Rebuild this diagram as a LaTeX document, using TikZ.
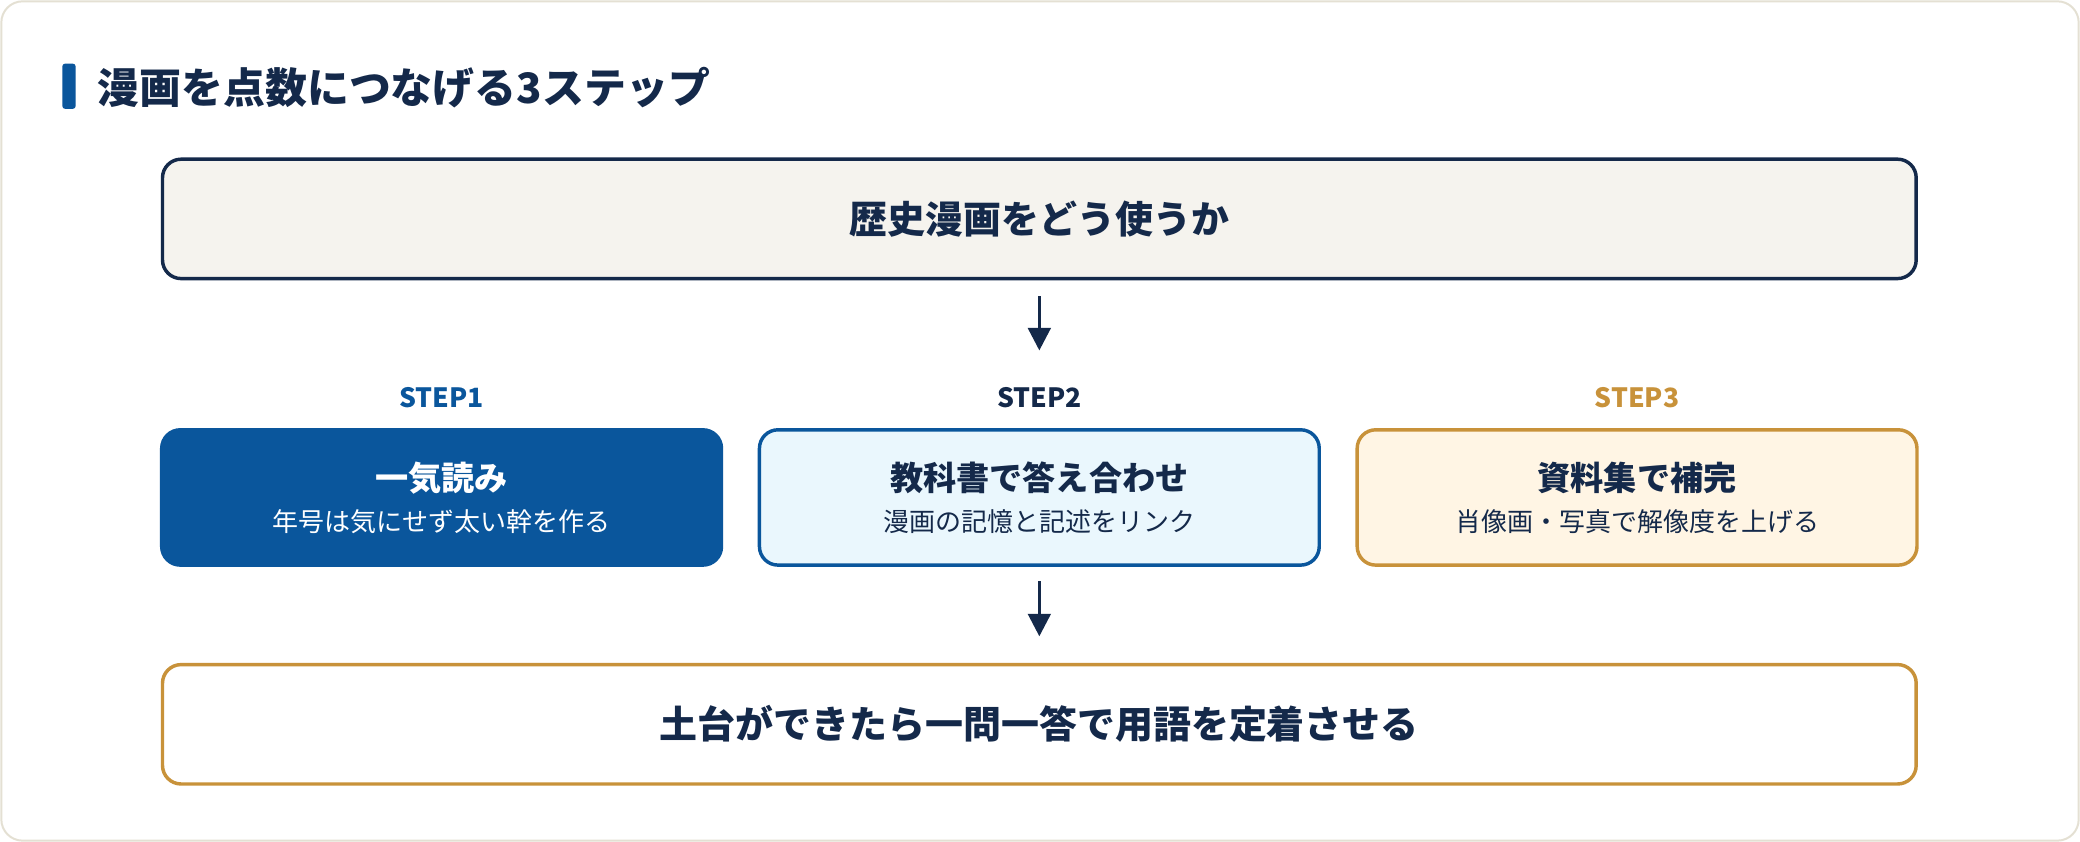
\documentclass[tikz,border=0pt]{standalone}
\usepackage{fontspec}
\setmainfont{Noto Sans CJK JP}
\usepackage{tikz}
\usetikzlibrary{positioning,arrows.meta}
\definecolor{navy}{HTML}{14294A}
\definecolor{stepblue}{HTML}{0A569C}
\definecolor{gold}{HTML}{C8923A}
\definecolor{paleblue}{HTML}{EAF7FD}
\definecolor{cream}{HTML}{FFF5E4}
\definecolor{paper}{HTML}{F5F3EE}
\definecolor{framegray}{HTML}{E4E0D3}
\tikzset{
  box/.style={draw=navy, line width=2.6pt, rounded corners=14pt, minimum width=1322pt,
    minimum height=90pt, inner sep=0pt, text=navy, font=\fontsize{28.6}{34}\selectfont\bfseries},
  stepbox/.style={line width=2.6pt, rounded corners=14pt, minimum width=422pt,
    minimum height=102pt, inner sep=0pt, align=center, font=\fontsize{19.6}{24}\selectfont},
  steplabel/.style={font=\fontsize{20}{24}\selectfont\bfseries},
}
\newcommand{\Head}[1]{{\fontsize{25}{30}\selectfont\bfseries #1}\\[7pt]}

\begin{document}
\begin{tikzpicture}[x=1pt, y=-1pt, node distance=26pt, >={Triangle[length=17pt,width=17pt]}]
        \useasboundingbox (0,0) rectangle (1568,634.7);
        \draw[framegray, line width=1.5pt, fill=white, rounded corners=16pt] (1,1) rectangle (1567,633.7);

        % heading
        \node[fill=stepblue, rounded corners=2pt, minimum width=10pt, minimum height=34pt, inner sep=0pt] (bar) at (52,65) {};
        \node[text=navy, font=\fontsize{31.6}{38}\selectfont\bfseries, anchor=west] (title) at (70,66) {漫画を点数につなげる3ステップ};

        \node[box, fill=paper] (top) at (783.5,165) {歴史漫画をどう使うか};

        \node[stepbox, draw=stepblue, fill=paleblue, text=navy] (s_2) at (783.5,375) {\Head{教科書で答え合わせ}漫画の記憶と記述をリンク};
        \node[stepbox, draw=stepblue, fill=stepblue, text=white] (s_1) [left = of s_2] {\Head{一気読み}年号は気にせず太い幹を作る};
        \node[stepbox, draw=gold, fill=cream, text=navy] (s_3) [right = of s_2] {\Head{資料集で補完}肖像画・写真で解像度を上げる};

        \node[steplabel, text=stepblue] (l_1) [above = 12pt of s_1] {STEP1};
        \node[steplabel, text=navy] (l_2) [above = 12pt of s_2] {STEP2};
        \node[steplabel, text=gold] (l_3) [above = 12pt of s_3] {STEP3};

        \node[box, draw=gold, fill=white] (bottom) at (783.5,546) {土台ができたら一問一答で用語を定着させる};

        \draw[->, navy, line width=2.5pt, shorten <=12pt, shorten >=24pt] (top) -- (l_2);
        \draw[->, navy, line width=2.5pt, shorten <=11pt, shorten >=20pt] (s_2) -- (bottom);
      \end{tikzpicture}
\end{document}
